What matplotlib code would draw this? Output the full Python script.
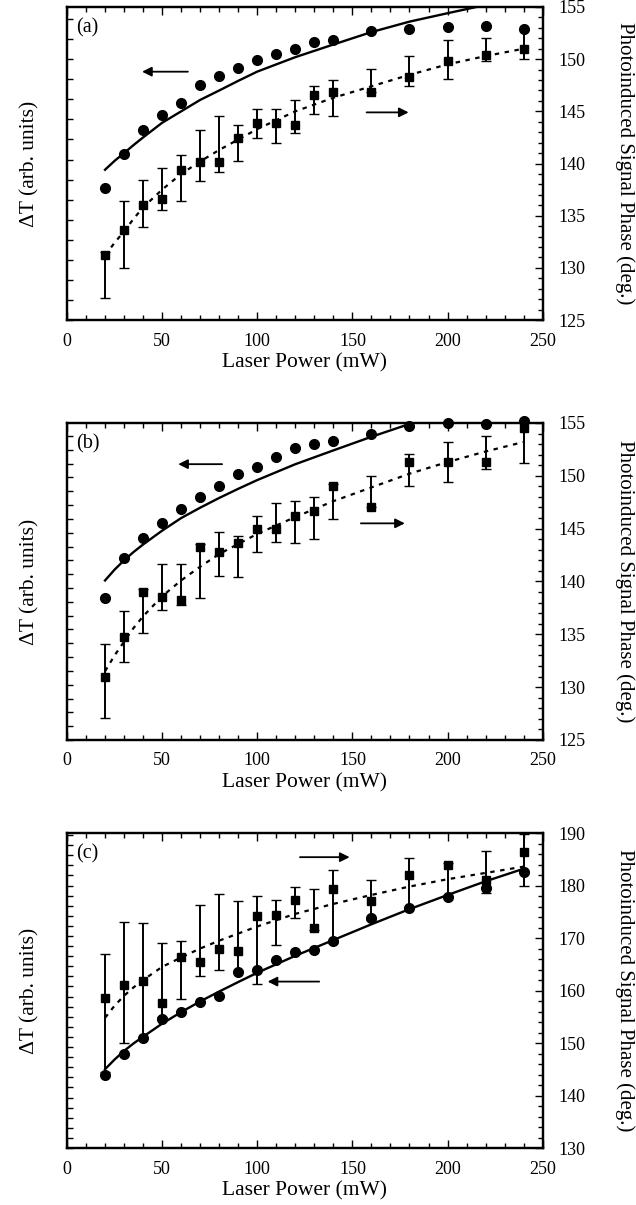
import numpy as np
import matplotlib.pyplot as plt
from matplotlib.ticker import MultipleLocator

plt.rcParams['font.family'] = ['Liberation Serif', 'DejaVu Serif']

# laser power (mW) for every measured point
power = [20, 30, 40, 50, 60, 70, 80, 90, 100, 110, 120, 130, 140, 160, 180, 200, 220, 240]

# ---- panel (a) ----
a_dT = [6.60, 8.27, 9.46, 10.24, 10.82, 11.70, 12.17, 12.58, 12.95, 13.26, 13.52,
        13.88, 13.94, 14.40, 14.51, 14.61, 14.66, 14.51]
a_phase = [131.2, 133.6, 136.0, 136.6, 139.4, 140.1, 140.1, 142.4, 143.9, 143.9, 143.7,
           146.6, 146.9, 146.9, 148.3, 149.8, 150.4, 151.0]
a_phase_lo = [127.1, 130.0, 133.9, 135.5, 136.4, 138.3, 139.2, 140.2, 142.4, 142.0, 142.9,
              144.7, 144.6, 146.9, 147.4, 148.1, 149.8, 150.0]
a_phase_hi = [131.5, 136.4, 138.4, 139.6, 140.8, 143.2, 144.6, 143.7, 145.2, 145.2, 146.1,
              147.4, 148.0, 149.1, 150.3, 151.8, 152.0, 152.8]
a_fit_p = [20, 25, 30, 35, 40, 50, 60, 70, 80, 90, 100, 120, 140, 160, 180, 200, 220]
a_fit_dT = [7.49, 7.93, 8.32, 8.72, 9.10, 9.83, 10.40, 10.97, 11.44, 11.92, 12.38,
            13.10, 13.73, 14.35, 14.87, 15.29, 15.70]
a_fit2_p = [20, 25, 30, 35, 40, 50, 60, 70, 80, 100, 120, 140, 160, 180, 200, 220, 240]
a_fit_phase = [131.2, 132.4, 133.5, 134.7, 135.8, 137.5, 139.0, 140.2, 141.3, 143.3,
               145.0, 146.3, 147.4, 148.5, 149.5, 150.3, 151.0]

# ---- panel (b) ----
b_dT = [6.97, 8.94, 9.93, 10.66, 11.39, 11.96, 12.48, 13.10, 13.42, 13.94, 14.35,
        14.56, 14.72, 15.08, 15.44, 15.60, 15.55, 15.70]
b_phase = [131.0, 134.7, 139.0, 138.5, 138.2, 143.3, 142.8, 143.6, 145.0, 145.0, 146.2,
           146.7, 149.0, 147.0, 151.3, 151.3, 151.3, 154.5]
b_phase_lo = [127.1, 132.4, 135.1, 137.3, 137.8, 138.4, 140.5, 140.4, 142.8, 143.7, 143.6,
              144.0, 145.9, 147.0, 149.0, 149.4, 150.6, 151.2]
b_phase_hi = [134.1, 137.2, 139.3, 141.7, 141.7, 143.5, 144.7, 144.3, 146.2, 147.4, 147.6,
              148.0, 149.2, 150.0, 152.1, 153.2, 153.8, 155.2]
b_fit_p = [20, 25, 30, 35, 40, 50, 60, 70, 80, 90, 100, 120, 140, 160, 180, 190]
b_fit_dT = [7.85, 8.38, 8.84, 9.25, 9.62, 10.30, 10.92, 11.43, 11.91, 12.36, 12.79,
            13.57, 14.25, 14.92, 15.55, 15.81]
b_fit2_p = [20, 25, 30, 35, 40, 50, 60, 70, 80, 100, 120, 140, 160, 180, 200, 220, 240]
b_fit_phase = [131.5, 133.0, 134.3, 135.6, 136.7, 138.6, 140.1, 141.4, 142.6, 144.5,
               146.1, 147.6, 148.9, 150.2, 151.3, 152.3, 153.2]

# ---- panel (c) ----
c_dT = [3.64, 4.68, 5.46, 6.37, 6.76, 7.23, 7.54, 8.71, 8.84, 9.31, 9.70, 9.83, 10.27,
        11.39, 11.91, 12.43, 12.90, 13.68]
c_phase = [158.5, 161.0, 161.8, 157.6, 166.3, 165.5, 168.0, 167.5, 174.2, 174.4, 177.2,
           172.0, 179.3, 177.0, 182.0, 184.0, 181.0, 186.3]
c_phase_lo = [144.5, 150.0, 151.0, 155.0, 158.3, 162.7, 164.0, 163.8, 161.3, 168.6, 173.8,
              171.5, 169.0, 173.5, 176.0, 177.8, 178.5, 180.0]
c_phase_hi = [167.0, 173.0, 172.9, 169.0, 169.5, 176.2, 178.3, 177.0, 178.0, 177.3, 179.8,
              179.4, 183.0, 181.0, 185.2, 184.2, 186.5, 189.8]
c_fit_p = [20, 25, 30, 35, 40, 50, 60, 70, 80, 90, 100, 120, 140, 160, 180, 200, 220, 240]
c_fit_dT = [3.90, 4.38, 4.81, 5.18, 5.51, 6.16, 6.73, 7.26, 7.75, 8.22, 8.68, 9.52,
            10.30, 11.08, 11.83, 12.53, 13.21, 13.83]
c_fit2_p = [20, 25, 30, 35, 40, 50, 60, 70, 80, 100, 120, 140, 160, 180, 200, 220, 240]
c_fit_phase = [154.8, 157.1, 159.0, 160.6, 162.0, 164.5, 166.3, 168.0, 169.5, 172.2,
               174.6, 176.5, 178.2, 179.8, 181.2, 182.4, 183.6]

panels = [
    dict(tag='(a)', dT=a_dT, ph=a_phase, lo=a_phase_lo, hi=a_phase_hi,
         fp=a_fit_p, fdT=a_fit_dT, fp2=a_fit2_p, fph=a_fit_phase,
         rlim=(125, 155), rmaj=5, rmin=1, lstep=1.0,
         left_arrow=((38, 148.8), (65, 148.8)), right_arrow=((181, 144.9), (156, 144.9))),
    dict(tag='(b)', dT=b_dT, ph=b_phase, lo=b_phase_lo, hi=b_phase_hi,
         fp=b_fit_p, fdT=b_fit_dT, fp2=b_fit2_p, fph=b_fit_phase,
         rlim=(125, 155), rmaj=5, rmin=1, lstep=0.68,
         left_arrow=((57, 151.1), (83, 151.1)), right_arrow=((179, 145.5), (153, 145.5))),
    dict(tag='(c)', dT=c_dT, ph=c_phase, lo=c_phase_lo, hi=c_phase_hi,
         fp=c_fit_p, fdT=c_fit_dT, fp2=c_fit2_p, fph=c_fit_phase,
         rlim=(130, 190), rmaj=10, rmin=2, lstep=0.5,
         left_arrow=((104, 161.7), (134, 161.7)), right_arrow=((150, 185.4), (121, 185.4))),
]

rects = [[0.1053, 0.7344, 0.748, 0.2598],
         [0.1053, 0.3859, 0.748, 0.2631],
         [0.1053, 0.0473, 0.748, 0.2614]]

fig = plt.figure(figsize=(6.36, 12.05), dpi=100)

for p, r in zip(panels, rects):
    ax = fig.add_axes(r)
    ax2 = ax.twinx()

    # left axis: dT (arbitrary units), circles + solid fit
    ax.plot(p['fp'], p['fdT'], color='black', lw=1.7, zorder=2)
    ax.plot(power, p['dT'], 'o', color='black', ms=7, clip_on=False, zorder=3)
    ax.set_xlim(0, 250)
    ax.set_ylim(0, 15.6)

    # right axis: phase, squares with error bars + dotted fit
    ph = np.array(p['ph'])
    yerr = [ph - np.array(p['lo']), np.array(p['hi']) - ph]
    ax2.plot(p['fp2'], p['fph'], color='black', lw=1.6, ls=(0, (2, 2.5)), zorder=2)
    ax2.errorbar(power, ph, yerr=yerr, fmt='s', color='black', ms=6, ecolor='black',
                 elinewidth=1.4, capsize=3.5, capthick=1.0, clip_on=False, zorder=3)
    ax2.set_ylim(*p['rlim'])

    ax.xaxis.set_major_locator(MultipleLocator(50))
    ax.xaxis.set_minor_locator(MultipleLocator(10))
    ax.yaxis.set_major_locator(MultipleLocator(p['lstep']))
    ax.set_yticklabels([])
    ax.tick_params(axis='x', which='both', direction='in', top=True, bottom=True,
                   labelsize=13, pad=9)
    ax.tick_params(axis='x', which='major', length=6, width=1)
    ax.tick_params(axis='x', which='minor', length=3.5, width=1)
    ax.tick_params(axis='y', which='major', direction='in', length=4, width=1)

    ax2.yaxis.set_major_locator(MultipleLocator(p['rmaj']))
    ax2.yaxis.set_minor_locator(MultipleLocator(p['rmin']))
    ax2.tick_params(axis='y', which='both', direction='in', labelsize=13, pad=11)
    ax2.tick_params(axis='y', which='major', length=6, width=1)
    ax2.tick_params(axis='y', which='minor', length=3.5, width=1)

    for s in ax.spines.values():
        s.set_linewidth(1.6)
    for s in ax2.spines.values():
        s.set_linewidth(1.6)

    ax.set_xlabel('Laser Power (mW)', fontsize=15.5, labelpad=3)
    ax.set_ylabel('ΔT (arb. units)', fontsize=15.5)
    ax.yaxis.set_label_coords(-0.058, 0.5)
    ax2.set_ylabel('Photoinduced Signal Phase (deg.)', fontsize=15, rotation=270,
                   va='center')
    ax2.yaxis.set_label_coords(1.172, 0.5)

    ax.text(0.02, 0.965, p['tag'], transform=ax.transAxes, fontsize=14.5, va='top')

    (lx0, ly), (lx1, _) = p['left_arrow']
    ax2.annotate('', xy=(lx0, ly), xytext=(lx1, ly),
                 arrowprops=dict(arrowstyle='-|>', color='black', lw=1.3, mutation_scale=14))
    (rx0, ry), (rx1, _) = p['right_arrow']
    ax2.annotate('', xy=(rx0, ry), xytext=(rx1, ry),
                 arrowprops=dict(arrowstyle='-|>', color='black', lw=1.3, mutation_scale=14))

fig.savefig('out.png', dpi=100)
